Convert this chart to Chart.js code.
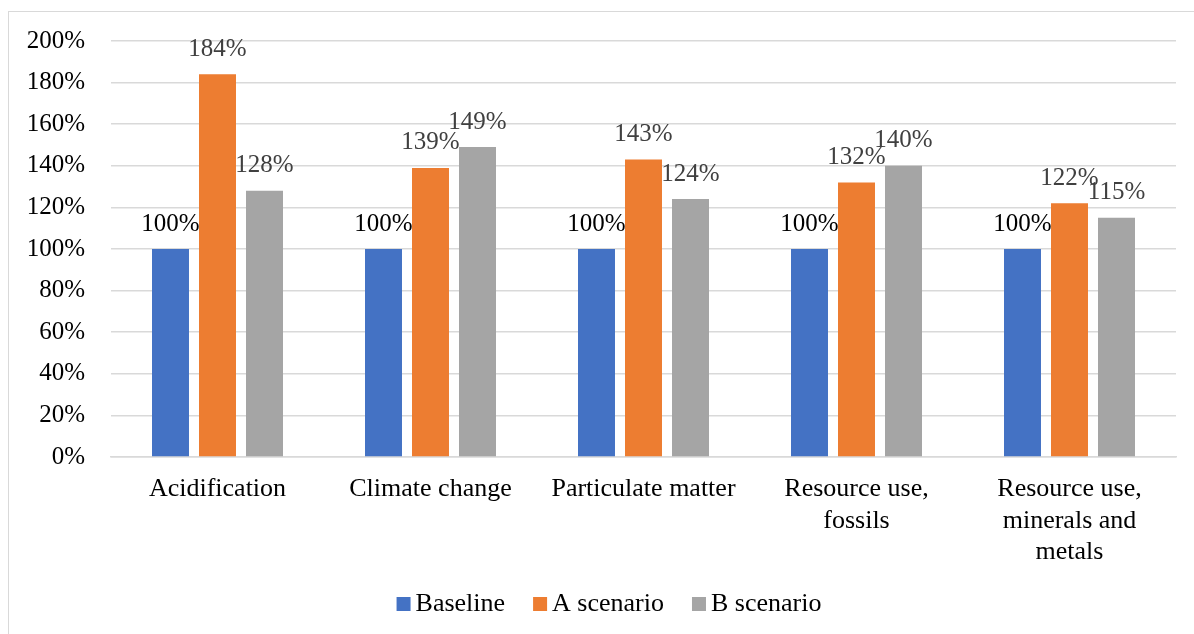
<!DOCTYPE html>
<html>
<head>
<meta charset="utf-8">
<script src="https://cdn.jsdelivr.net/npm/chart.js@4.4.1/dist/chart.umd.min.js"></script>
<style>
  html, body { margin: 0; padding: 0; background: #fff; overflow: hidden; }
  #frame { position: absolute; left: 8px; top: 11px; width: 1220px; height: 660px; border: 1px solid #d9d9d9; box-sizing: border-box; }
  #wrap { position: absolute; left: 0; top: 0; width: 1194px; height: 634px; }
</style>
</head>
<body>
<div id="frame"></div>
<div id="wrap"><canvas id="c" width="1194" height="634"></canvas></div>
<script>
const categories = ["Acidification", "Climate change", "Particulate matter", ["Resource use,", "fossils"], ["Resource use,", "minerals and", "metals"]];
const seriesNames = ["Baseline", "A scenario", "B scenario"];
const baseline = [100, 100, 100, 100, 100];
const scenarioA = [184, 139, 143, 132, 122];
const scenarioB = [128, 149, 124, 140, 115];
const colors = ["#4472C4", "#ED7D31", "#A5A5A5"];
const labelColors = ["#000000", "#404040", "#404040"];
const FONT = "'Liberation Serif', 'Times New Roman', serif";

const dataLabels = {
  id: 'dataLabels',
  afterDatasetsDraw(chart) {
    const ctx = chart.ctx;
    ctx.save();
    ctx.font = "25px " + FONT;
    ctx.textAlign = 'center';
    ctx.textBaseline = 'middle';
    chart.data.datasets.forEach((ds, i) => {
      const meta = chart.getDatasetMeta(i);
      meta.data.forEach((bar, j) => {
        ctx.fillStyle = labelColors[i];
        ctx.fillText(ds.data[j] + '%', bar.x, bar.y - 25);
      });
    });
    ctx.restore();
  }
};

const customLegend = {
  id: 'customLegend',
  afterDraw(chart) {
    const ctx = chart.ctx;
    ctx.save();
    ctx.font = "26px " + FONT;
    ctx.textBaseline = 'middle';
    ctx.textAlign = 'left';
    const box = 14, gap = 5, itemGap = 28;
    const widths = seriesNames.map(n => ctx.measureText(n).width);
    let total = widths.reduce((a, w) => a + box + gap + w, 0) + itemGap * (seriesNames.length - 1);
    let x = 609 - total / 2;
    const cy = 604;
    seriesNames.forEach((n, i) => {
      ctx.fillStyle = colors[i];
      ctx.fillRect(x, cy - box / 2, box, box);
      ctx.fillStyle = '#000';
      ctx.fillText(n, x + box + gap, cy);
      x += box + gap + widths[i] + itemGap;
    });
    ctx.restore();
  }
};

new Chart(document.getElementById('c'), {
  type: 'bar',
  data: {
    labels: categories,
    datasets: [
      { label: seriesNames[0], data: baseline, backgroundColor: colors[0] },
      { label: seriesNames[1], data: scenarioA, backgroundColor: colors[1] },
      { label: seriesNames[2], data: scenarioB, backgroundColor: colors[2] }
    ]
  },
  options: {
    responsive: false,
    animation: false,
    devicePixelRatio: 1,
    layout: { padding: { left: 0, right: 18, top: 41, bottom: 57 } },
    datasets: { bar: { categoryPercentage: 0.662, barPercentage: 0.787 } },
    plugins: { legend: { display: false }, tooltip: { enabled: false } },
    scales: {
      x: {
        grid: { display: false, drawTicks: false },
        border: { display: true, color: '#d9d9d9', width: 1.5 },
        ticks: { color: '#000', font: { family: FONT, size: 26, lineHeight: 1.2 }, padding: 17, maxRotation: 0, autoSkip: false },
        afterFit(s) { s.height = 120; }
      },
      y: {
        min: 0, max: 200,
        grid: { color: '#d9d9d9', lineWidth: 1.5, drawTicks: false },
        border: { display: false },
        ticks: { stepSize: 20, color: '#000', font: { family: FONT, size: 25 }, padding: 26, callback: v => v + '%' },
        afterFit(s) { s.width = 111; }
      }
    }
  },
  plugins: [dataLabels, customLegend]
});
</script>
</body>
</html>
